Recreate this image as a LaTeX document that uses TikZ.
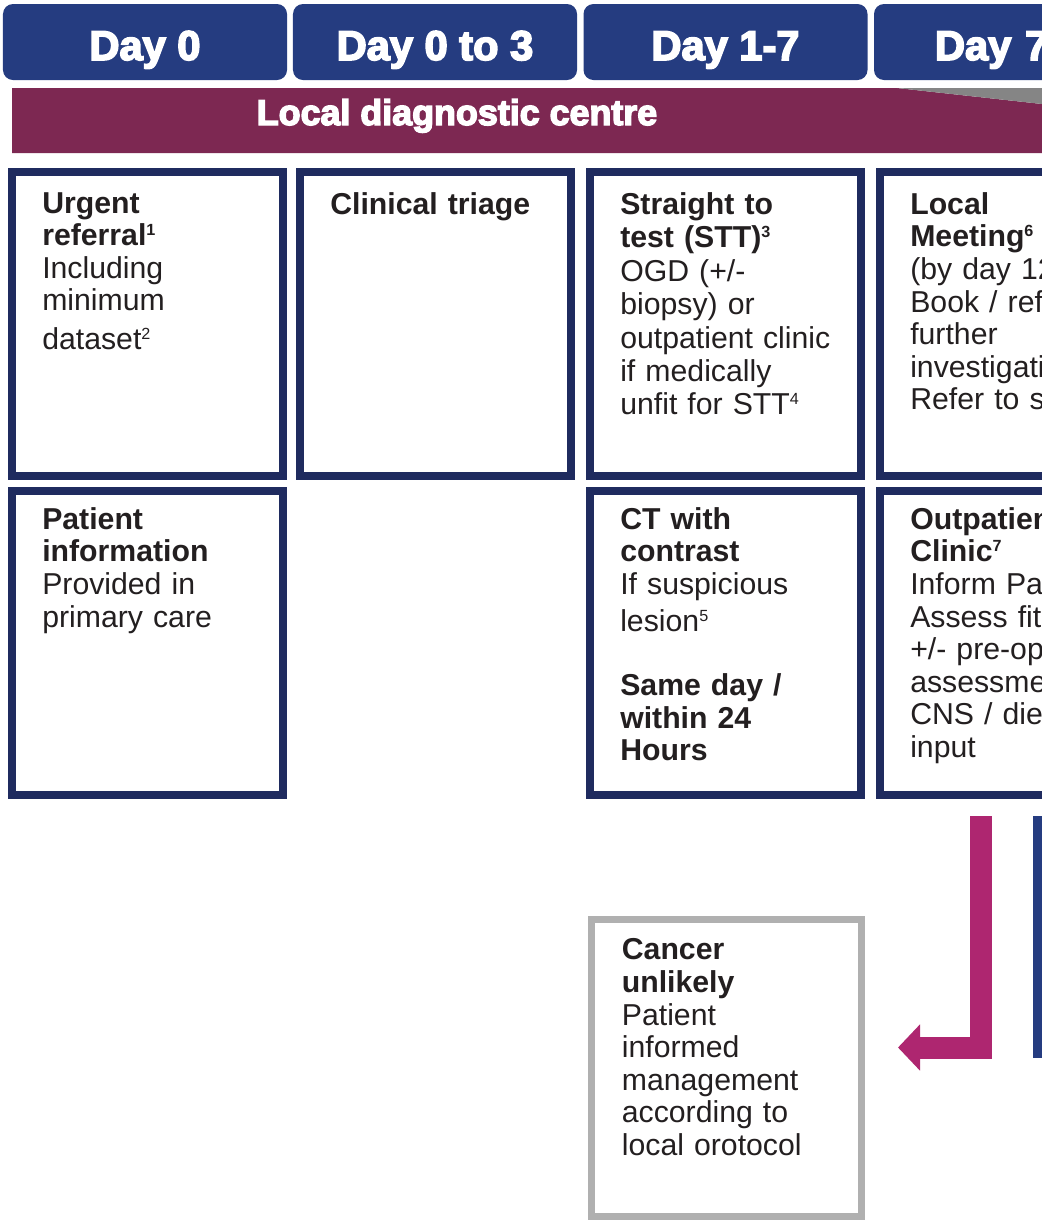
\documentclass[tikz,border=0pt]{standalone}
\usepackage{fontspec}
\setmainfont{Liberation Sans}
\newfontfamily\heavyfont{Liberation Sans}[BoldFeatures={FakeBold=4}]
\usepackage{xcolor}
\usepackage{tikz}
\usetikzlibrary{arrows.meta, positioning}
\definecolor{dayblue}{HTML}{253C80}
\definecolor{ldcplum}{HTML}{7D2852}
\definecolor{boxnavy}{HTML}{1F2B5F}
\definecolor{pathmagenta}{HTML}{AE2670}
\definecolor{wedgegrey}{HTML}{858585}
\definecolor{unlikelygrey}{HTML}{B0B0B0}
\definecolor{inktext}{HTML}{231F20}
\newcommand\fnmark[1]{\raisebox{0.33em}{\fontsize{11.5}{11.5}\selectfont #1}}
\tikzset{
  body/.style={font=\fontsize{21.5}{23.2}\selectfont, text=inktext, align=left,
               text width=60mm, inner sep=0pt},
  dayhead/.style={fill=dayblue, rounded corners=2.5mm, minimum width=71mm, minimum height=19mm,
                  inner sep=0pt, text height=9mm, text depth=0mm, text=white,
                  font=\heavyfont\bfseries\fontsize{29.6}{31}\selectfont},
  stagebox/.style={draw=#1, line width=2mm, minimum width=67.75mm, minimum height=76mm, inner sep=0pt},
  stagebox/.default=boxnavy,
  bigflow/.style={line width=5.5mm, draw=#1, -{Triangle[length=5.5mm, width=11.25mm]}},
}

\begin{document}
\begin{tikzpicture}[x=0.25mm, y=-0.25mm,
  centre/.style={text=white, inner sep=0pt, font=\heavyfont\bfseries\fontsize{25.5}{27}\selectfont}]
  \path[use as bounding box, clip] (0,0) rectangle (1042,1221);
  \fill[white] (0,0) rectangle (1042,1221);

  % day headers
  \foreach \n/\cx/\lbl in {d0/145/Day 0, d03/435/Day 0 to 3, d17/725.5/Day 1-7}
    \node[dayhead] (\n) at (\cx,42) {\lbl};
  \node[dayhead, text width=40.5mm, inner xsep=15.25mm, align=left] (d7) at (1016,42) {Day 7};

  % local diagnostic centre band
  \fill[ldcplum] (12,88) -- (897,88) -- (1042,104) -- (1042,153) -- (12,153) -- cycle;
  \fill[wedgegrey] (897,88) -- (1042,88) -- (1042,104) -- cycle;
  \node[centre, anchor=base] (ldc) at (457,125) {Local diagnostic centre};

  \node[stagebox] (urg)    at (147.5,324) {};
  \node[stagebox] (triage) at (435.5,324) {};
  \node[stagebox] (stt)    at (725.5,324) {};
  \node[stagebox] (meet)   at (1015.5,324) {};
  \node[stagebox] (pinfo)  at (147.5,643) {};
  \node[stagebox] (ctscan) at (725.5,643) {};
  \node[stagebox] (outp)   at (1015.5,643) {};
  \node[stagebox=unlikelygrey, line width=1.75mm, minimum width=67.5mm, minimum height=74.25mm]
    (unlikely) at (726.5,1068) {};

  \node[body, below right=6mm and 8.5mm of urg.north west] (urgtxt)
    {{\bfseries Urgent\\referral\fnmark{1}}\\Including\\minimum\\[1.5mm]dataset\fnmark{2}};
  \node[body, below right=6mm and 8.5mm of triage.north west] (triagetxt)
    {\bfseries Clinical triage};
  \node[body, font=\fontsize{21.5}{23.8}\selectfont, below right=6mm and 8.5mm of stt.north west] (stttxt)
    {{\bfseries Straight to\\test (STT)\fnmark{3}}\\OGD (+/-\\biopsy) or\\outpatient clinic\\if medically\\unfit for STT\fnmark{4}};
  \node[body, below right=6mm and 8.5mm of meet.north west] (meettxt)
    {{\bfseries Local\\Meeting\fnmark{6}}\\(by day 12\\Book / ref\\further\\investigati\\Refer to s};
  \node[body, below right=5mm and 8.5mm of pinfo.north west] (pinfotxt)
    {{\bfseries Patient\\information}\\Provided in\\primary care};
  \node[body, below right=5mm and 8.5mm of ctscan.north west] (cttxt)
    {{\bfseries CT with\\contrast}\\If suspicious\\[1.2mm]lesion\fnmark{5}\\[7.8mm]{\bfseries Same day /\\within 24\\Hours}};
  \node[body, below right=5mm and 8.5mm of outp.north west] (outptxt)
    {{\bfseries Outpatien\\Clinic\fnmark{7}}\\Inform Pa\\Assess fit\\+/- pre-op\\assessme\\CNS / diet\\input};
  \node[body, below right=5.6mm and 8.4mm of unlikely.north west] (unlikelytxt)
    {{\bfseries Cancer\\unlikely}\\Patient\\informed\\management\\according to\\local orotocol};

  % pathway arrows
  \coordinate (magtop) at (981,816);
  \coordinate (magtip) at (898,1047.5);
  \coordinate (bluetop) at (1044.5,816);
  \coordinate (bluebot) at (1044.5,1058);
  \draw[bigflow=pathmagenta] (magtop) |- (magtip);
  \draw[line width=5.75mm, dayblue] (bluetop) -- (bluebot);
\end{tikzpicture}
\end{document}
